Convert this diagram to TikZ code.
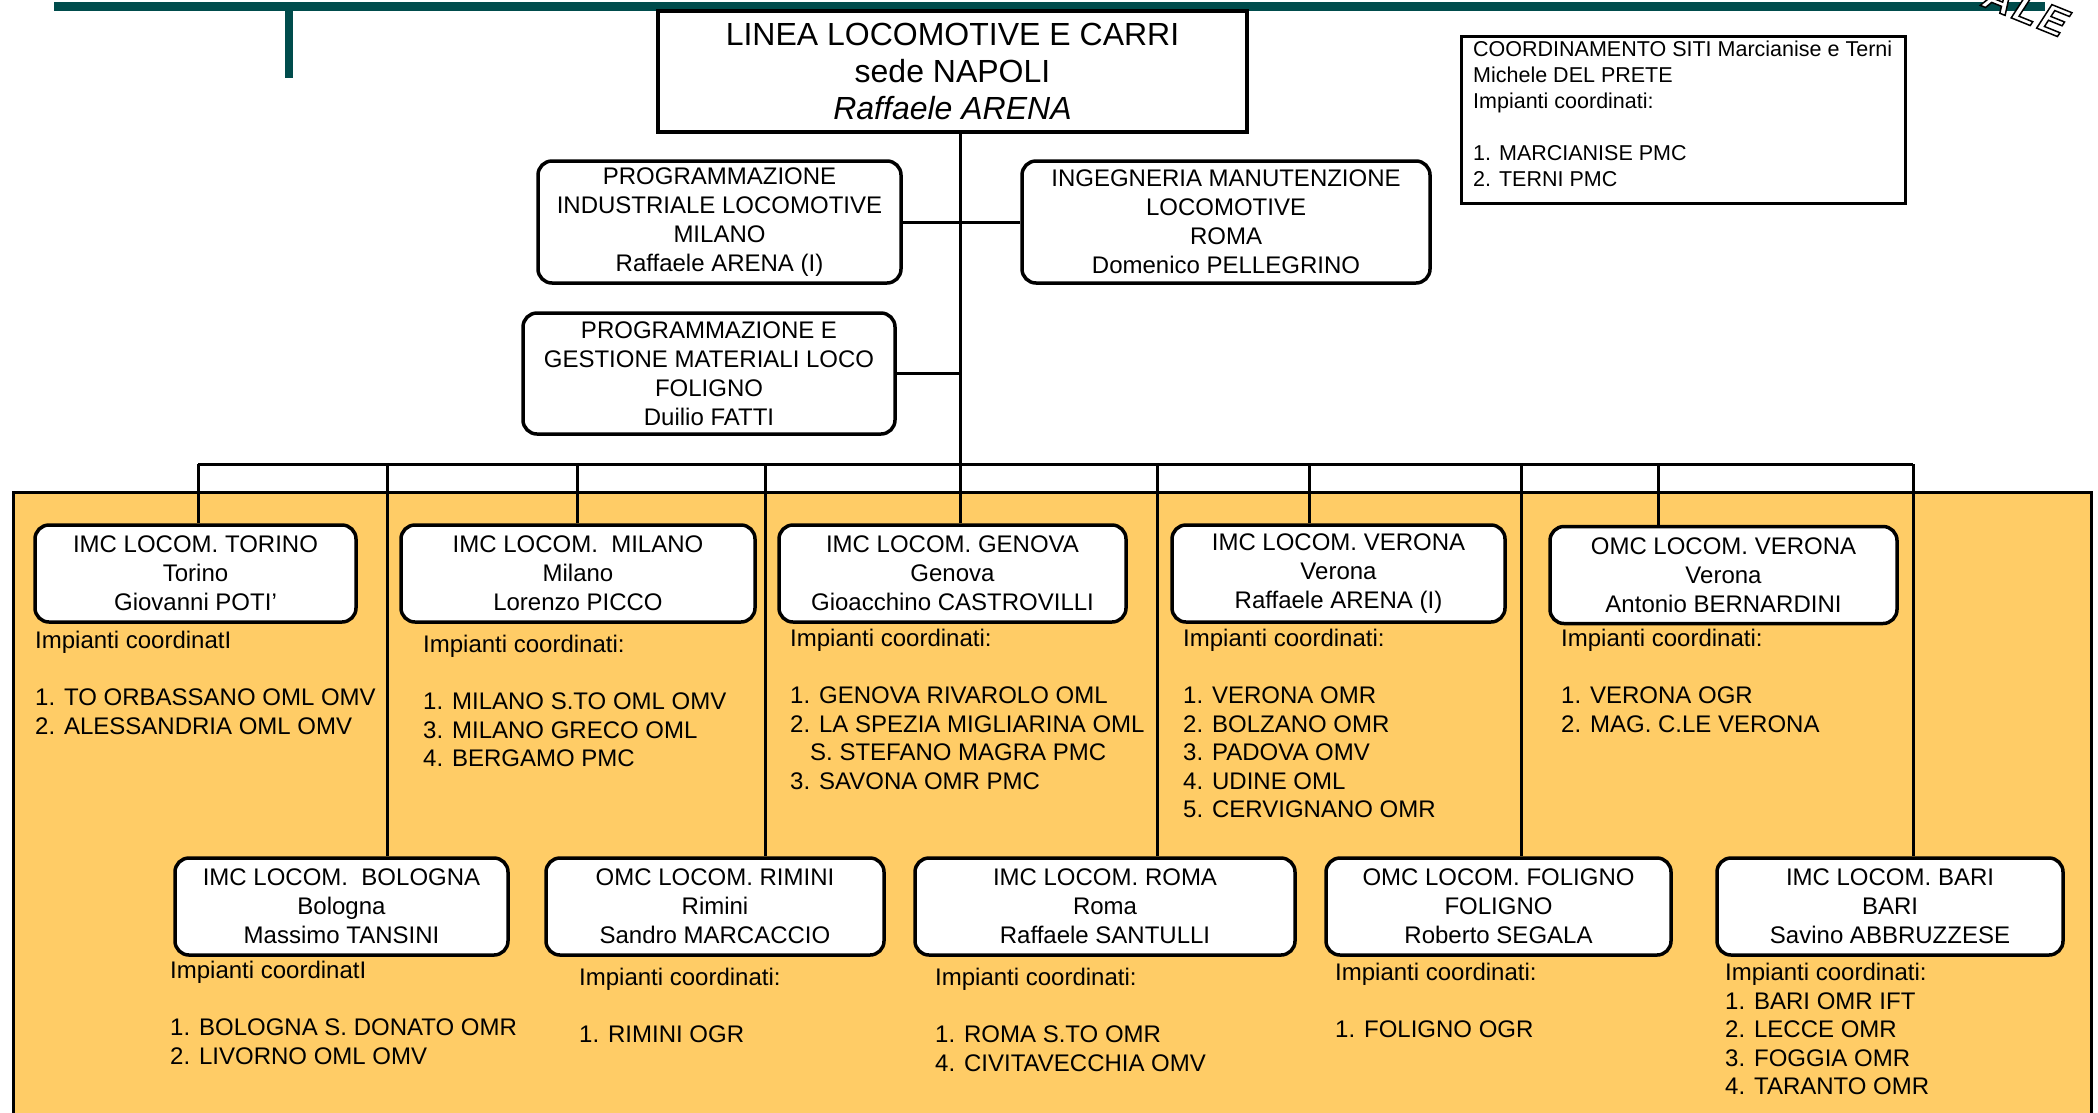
\documentclass[tikz,border=0pt]{standalone}
\usepackage{fontspec}
\setmainfont{Liberation Sans}
\definecolor{barteal}{RGB}{0,76,76}
\definecolor{panelorange}{RGB}{255,204,102}
\newcommand{\outlinetext}[1]{\special{pdf:literal direct 2 Tr 1.5 w 0 0 0 RG}#1\special{pdf:literal direct 0 Tr}}
\begin{document}
\begin{tikzpicture}[x=1pt,y=-1pt,
  ubox/.style={draw, line width=3.5pt, rounded corners=14pt, fill=white, align=center, inner sep=0pt, font=\fontsize{24}{29}\selectfont},
  sqbox/.style={draw, line width=3.5pt, fill=white, inner sep=0pt},
  listtext/.style={anchor=north west, align=left, inner sep=0pt, font=\fontsize{24}{28.5}\selectfont},
  conn/.style={line width=3pt},
  wordart/.style={rotate=-22, inner sep=0pt, font=\fontsize{40}{40}\selectfont\bfseries\itshape}
]
\useasboundingbox (0,0) rectangle (2098,1112);
\fill[white] (0,0) rectangle (2098,1112);
% orange panel
\draw[line width=3pt, fill=panelorange] (13,492) rectangle (2091,1125);
% green bar and stub
\fill[barteal] (54,2) rectangle (2045,11);
\fill[barteal] (285,11) rectangle (293,78);
% word art fragment
\node[wordart, text=white] (ale) at (2026,9) {\outlinetext{A\hspace{3pt}L\hspace{3pt}E}};

% top boxes
\node[sqbox, minimum width=589pt, minimum height=121pt, align=center, font=\fontsize{32}{37}\selectfont] (main) at (952.5,71.5) {LINEA LOCOMOTIVE E CARRI\\sede NAPOLI\\\textit{Raffaele ARENA}};
\node[sqbox, line width=3pt, minimum width=444pt, minimum height=167pt] (coord) at (1683,119.5) {};
\node[anchor=north west, align=left, inner sep=0pt, font=\fontsize{21.5}{26}\selectfont] (coordtext) at (1473,41) {COORDINAMENTO SITI Marcianise e Terni\\Michele DEL PRETE\\Impianti coordinati:\\[26pt]1. MARCIANISE PMC\\2. TERNI PMC};

\node[ubox, minimum width=363pt, minimum height=122pt] (box2) at (719.5,222) {PROGRAMMAZIONE\\INDUSTRIALE LOCOMOTIVE\\MILANO\\Raffaele ARENA (I)};
\node[ubox, minimum width=408pt, minimum height=122pt] (box3) at (1226,222) {INGEGNERIA MANUTENZIONE\\LOCOMOTIVE\\ROMA\\Domenico PELLEGRINO};
\node[ubox, minimum width=372pt, minimum height=121pt] (box4) at (709,373.5) {PROGRAMMAZIONE E\\GESTIONE MATERIALI LOCO\\FOLIGNO\\Duilio FATTI};

% row 1
\node[ubox, minimum width=321pt, minimum height=97pt] (torino) at (195.5,573.5) {IMC LOCOM. TORINO\\Torino\\Giovanni POTI’};
\node[ubox, minimum width=354pt, minimum height=97pt] (milano) at (578,573.5) {IMC LOCOM.\ \ MILANO\\Milano\\Lorenzo PICCO};
\node[ubox, minimum width=347pt, minimum height=97pt] (genova) at (952.5,573.5) {IMC LOCOM. GENOVA\\Genova\\Gioacchino CASTROVILLI};
\node[ubox, minimum width=333pt, minimum height=97pt] (veronaimc) at (1338.5,573.5) {IMC LOCOM. VERONA\\Verona\\Raffaele ARENA (I)};
\node[ubox, minimum width=347pt, minimum height=97pt] (veronaomc) at (1723.5,575) {OMC LOCOM. VERONA\\Verona\\Antonio BERNARDINI};

% row 2
\node[ubox, minimum width=333pt, minimum height=97pt] (bologna) at (341.5,906.5) {IMC LOCOM.\ \ BOLOGNA\\Bologna\\Massimo TANSINI};
\node[ubox, minimum width=338pt, minimum height=97pt] (rimini) at (715,906.5) {OMC LOCOM. RIMINI\\Rimini\\Sandro MARCACCIO};
\node[ubox, minimum width=380pt, minimum height=97pt] (roma) at (1105,906.5) {IMC LOCOM. ROMA\\Roma\\Raffaele SANTULLI};
\node[ubox, minimum width=345pt, minimum height=97pt] (foligno) at (1498.5,906.5) {OMC LOCOM. FOLIGNO\\FOLIGNO\\Roberto SEGALA};
\node[ubox, minimum width=346pt, minimum height=97pt] (bari) at (1890,906.5) {IMC LOCOM. BARI\\BARI\\Savino ABBRUZZESE};

% lists row 1
\node[listtext] (ltorino) at (35,631) {Impianti coordinatI\\[28.5pt]1. TO ORBASSANO OML OMV\\2. ALESSANDRIA OML OMV};
\node[listtext] (lmilano) at (423,635) {Impianti coordinati:\\[28.5pt]1. MILANO S.TO OML OMV\\3. MILANO GRECO OML\\4. BERGAMO PMC};
\node[listtext] (lgenova) at (790,629) {Impianti coordinati:\\[28.5pt]1. GENOVA RIVAROLO OML\\2. LA SPEZIA MIGLIARINA OML\\\hspace*{20pt}S. STEFANO MAGRA PMC\\3. SAVONA OMR PMC};
\node[listtext] (lveronaimc) at (1183,629) {Impianti coordinati:\\[28.5pt]1. VERONA OMR\\2. BOLZANO OMR\\3. PADOVA OMV\\4. UDINE OML\\5. CERVIGNANO OMR};
\node[listtext] (lveronaomc) at (1561,629) {Impianti coordinati:\\[28.5pt]1. VERONA OGR\\2. MAG. C.LE VERONA};

% lists row 2
\node[listtext] (lbologna) at (170,961) {Impianti coordinatI\\[28.5pt]1. BOLOGNA S. DONATO OMR\\2. LIVORNO OML OMV};
\node[listtext] (lrimini) at (579,968) {Impianti coordinati:\\[28.5pt]1. RIMINI OGR};
\node[listtext] (lroma) at (935,968) {Impianti coordinati:\\[28.5pt]1. ROMA S.TO OMR\\4. CIVITAVECCHIA OMV};
\node[listtext] (lfoligno) at (1335,963) {Impianti coordinati:\\[28.5pt]1. FOLIGNO OGR};
\node[listtext] (lbari) at (1725,963) {Impianti coordinati:\\1. BARI OMR IFT\\2. LECCE OMR\\3. FOGGIA OMR\\4. TARANTO OMR};

% bus coordinates
\coordinate (b1) at (198,464);
\coordinate (b2) at (387,464);
\coordinate (b3) at (577,464);
\coordinate (b4) at (765,464);
\coordinate (b5) at (960,464);
\coordinate (b6) at (1157,464);
\coordinate (b7) at (1309,464);
\coordinate (b8) at (1521,464);
\coordinate (b9) at (1658,464);
\coordinate (b10) at (1913,464);

% connectors
\draw[conn] (b5 |- main.south) -- (b5);
\draw[conn] (box2.east) -- (box3.west);
\draw[conn] (box4.east) -- (box4.east -| b5);
\draw[conn] (b1) -- (b10);
\draw[conn] (b1) -- (b1 |- torino.north);
\draw[conn] (b2) -- (b2 |- bologna.north);
\draw[conn] (b3) -- (b3 |- milano.north);
\draw[conn] (b4) -- (b4 |- rimini.north);
\draw[conn] (b5) -- (b5 |- genova.north);
\draw[conn] (b6) -- (b6 |- roma.north);
\draw[conn] (b7) -- (b7 |- veronaimc.north);
\draw[conn] (b8) -- (b8 |- foligno.north);
\draw[conn] (b9) -- (b9 |- veronaomc.north);
\draw[conn] (b10) -- (b10 |- bari.north);
\end{tikzpicture}
\end{document}
